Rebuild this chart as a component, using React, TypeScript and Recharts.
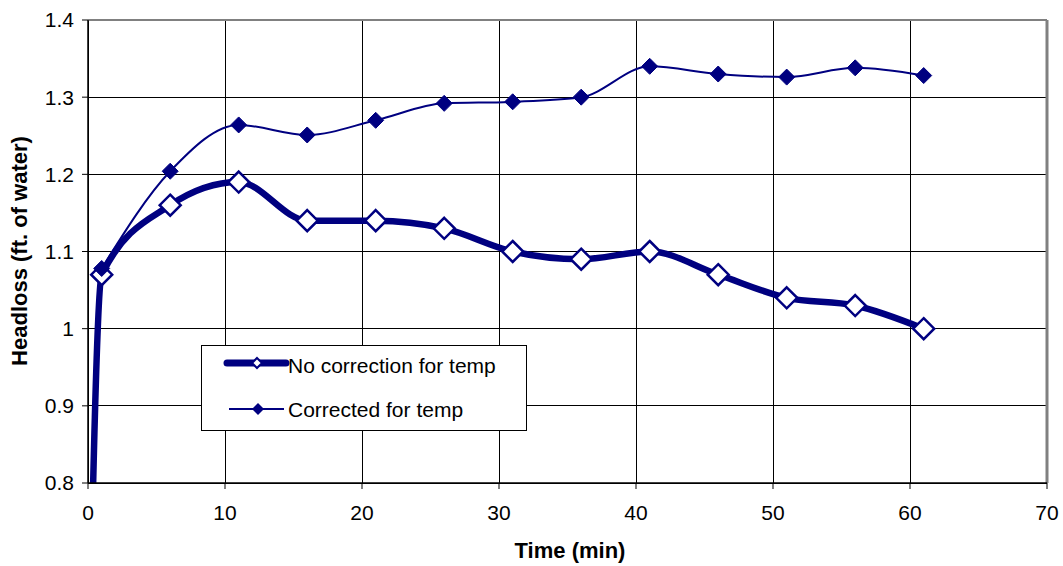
import React from 'react';
import { LineChart, Line, XAxis, YAxis, CartesianGrid, Legend, ReferenceLine } from 'recharts';

const time = [0, 1, 6, 11, 16, 21, 26, 31, 36, 41, 46, 51, 56, 61];
const noCorrection = [0.5, 1.07, 1.16, 1.19, 1.14, 1.14, 1.13, 1.1, 1.09, 1.1, 1.07, 1.04, 1.03, 1.0];
const corrected = [null, 1.078, 1.204, 1.264, 1.251, 1.27, 1.292, 1.294, 1.3, 1.34, 1.33, 1.326, 1.338, 1.328];
const xTicks = [0, 10, 20, 30, 40, 50, 60, 70];
const yTicks = [0.8, 0.9, 1, 1.1, 1.2, 1.3, 1.4];
const seriesNames = ['No correction for temp', 'Corrected for temp'];

const data = time.map((t, i) => ({ time: t, raw: noCorrection[i], corr: corrected[i] }));

const NAVY = '#000080';
const FONT = '"Liberation Sans", Arial, sans-serif';

const diamond = (cx: number, cy: number, r: number) =>
  `${cx},${cy - r} ${cx + r},${cy} ${cx},${cy + r} ${cx - r},${cy}`;

const HollowDot = (props: any) => {
  const { cx, cy, index } = props;
  if (cx == null || cy == null) return <g key={index} />;
  return <polygon key={index} points={diamond(cx, cy, 10.5)} fill="#fff" stroke={NAVY} strokeWidth={2.5} />;
};

const FilledDot = (props: any) => {
  const { cx, cy, index } = props;
  if (cx == null || cy == null) return <g key={index} />;
  return <polygon key={index} points={diamond(cx, cy, 8)} fill={NAVY} stroke={NAVY} strokeWidth={1} />;
};

// axis titles
const YTitle = () => (
  <text
    x={27}
    y={251}
    transform="rotate(-90 27 251)"
    textAnchor="middle"
    fontFamily={FONT}
    fontWeight="bold"
    fontSize={22}
    fill="#000"
  >
    Headloss (ft. of water)
  </text>
);

const XTitle = () => (
  <text x={570} y={558} textAnchor="middle" fontFamily={FONT} fontWeight="bold" fontSize={22} fill="#000">
    Time (min)
  </text>
);

const LegendBox = () => (
  <svg width={326} height={86} style={{ display: 'block' }}>
    <rect x={0.5} y={0.5} width={325} height={85} fill="#fff" stroke="#000" />
    <line x1={26} x2={85} y1={18} y2={18} stroke={NAVY} strokeWidth={7} strokeLinecap="round" />
    <polygon points={diamond(56, 18, 5)} fill="#fff" stroke={NAVY} strokeWidth={2} />
    <text x={87} y={27.5} fontFamily={FONT} fontSize={21} fill="#000">{seriesNames[0]}</text>
    <line x1={28} x2={83} y1={64} y2={64} stroke={NAVY} strokeWidth={2} />
    <polygon points={diamond(57, 64, 6)} fill={NAVY} />
    <text x={87} y={71.5} fontFamily={FONT} fontSize={21} fill="#000">{seriesNames[1]}</text>
  </svg>
);

const tickStyle = { fill: '#000', fontSize: 21, fontFamily: FONT };

export default function App() {
  return (
    <div style={{ position: 'absolute', left: 0, top: 0, background: '#fff' }}>
      <LineChart
        width={1063}
        height={566}
        data={data}
        margin={{ top: 20, right: 16, bottom: 0, left: 0 }}
        style={{ fontFamily: FONT }}
      >
        <CartesianGrid stroke="#000" strokeWidth={1} shapeRendering="crispEdges" />
        <XAxis
          dataKey="time"
          type="number"
          domain={[0, 70]}
          ticks={xTicks}
          height={83}
          tick={tickStyle}
          tickSize={6}
          tickMargin={16}
          axisLine={{ stroke: '#000', strokeWidth: 1.5 }}
          tickLine={{ stroke: '#000' }}
          label={<XTitle />}
        />
        <YAxis
          type="number"
          domain={[0.8, 1.4]}
          ticks={yTicks}
          allowDataOverflow
          width={88}
          tick={tickStyle}
          tickSize={6}
          tickMargin={8}
          axisLine={{ stroke: '#000', strokeWidth: 1.5 }}
          tickLine={{ stroke: '#000' }}
          label={<YTitle />}
        />
        <ReferenceLine y={1.4} stroke="#808080" strokeWidth={2} />
        <ReferenceLine x={70} stroke="#808080" strokeWidth={3} />
        <Line
          type="monotone"
          dataKey="raw"
          name={seriesNames[0]}
          stroke={NAVY}
          strokeWidth={6.5}
          dot={HollowDot}
          activeDot={false}
          isAnimationActive={false}
        />
        <Line
          type="monotone"
          dataKey="corr"
          name={seriesNames[1]}
          stroke={NAVY}
          strokeWidth={2}
          dot={FilledDot}
          activeDot={false}
          isAnimationActive={false}
        />
        <Legend
          layout="vertical"
          align="center"
          verticalAlign="middle"
          content={LegendBox}
          wrapperStyle={{ left: 201, top: 345, width: 326, height: 86 }}
        />
      </LineChart>
    </div>
  );
}
